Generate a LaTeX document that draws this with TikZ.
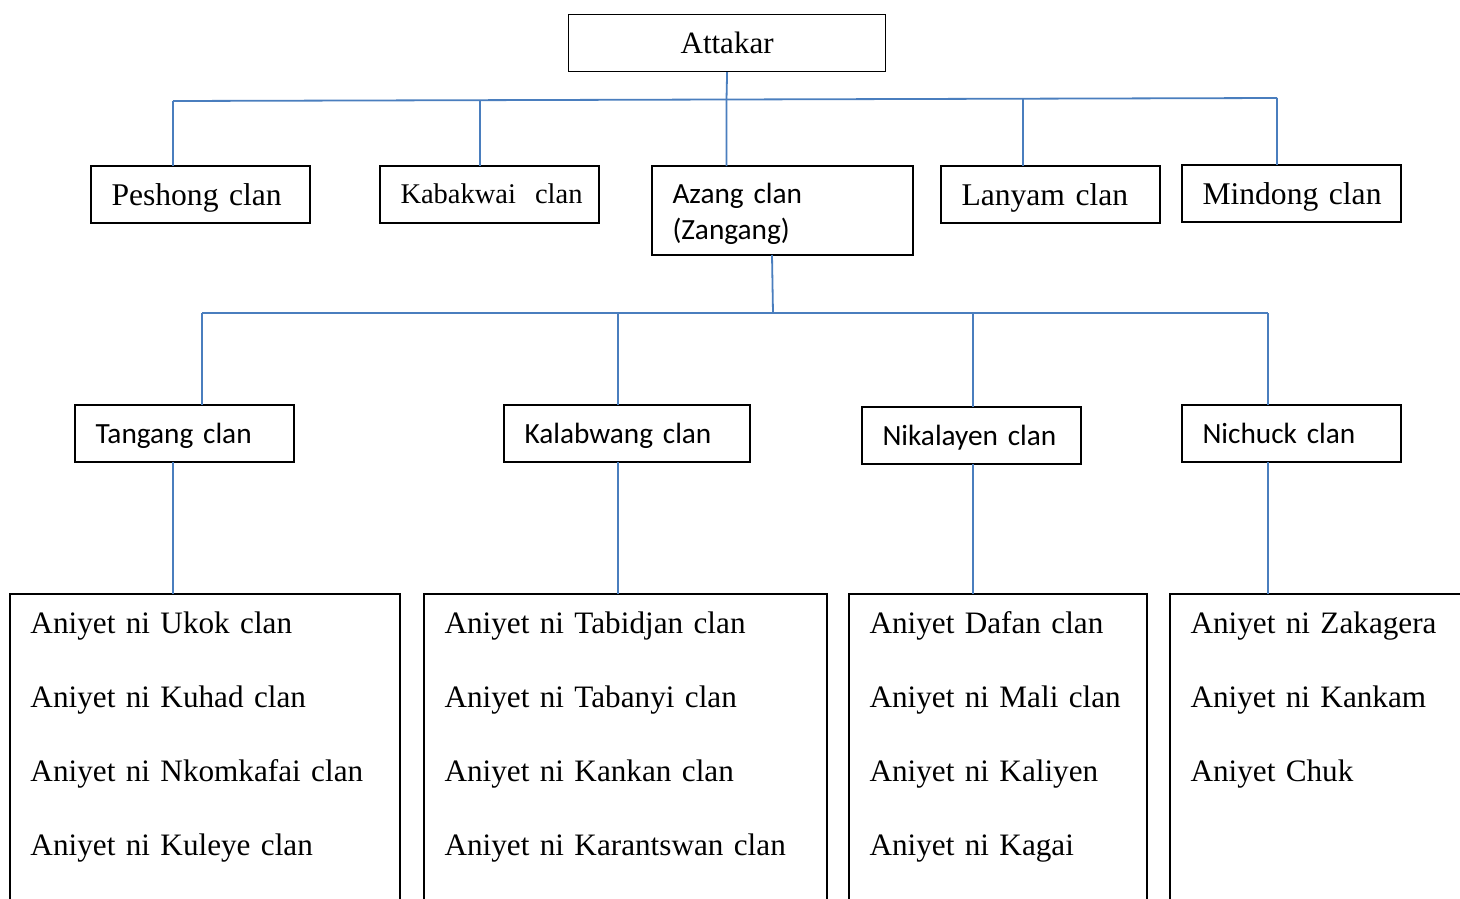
\documentclass[tikz,border=0pt]{standalone}
\usepackage{fontspec}
\setmainfont{Liberation Serif}
\newfontfamily\calib{Carlito}
\definecolor{linkblue}{RGB}{74,126,190}
\begin{document}
\begin{tikzpicture}[x=1pt,y=-1pt,
  box/.style={draw=black, line width=1.2pt, anchor=north west, inner xsep=20.5pt, inner ysep=0pt, align=left, outer sep=0pt},
  onerow/.style={box, minimum width=219pt, minimum height=57pt, text width=178pt, text height=39pt, text depth=18pt},
  serifbig/.style={font=\fontsize{31.6}{38}\selectfont},
  serifsmall/.style={font=\fontsize{28.5}{34}\selectfont},
  sans/.style={font=\calib\fontsize{29.3}{36}\selectfont},
  listbox/.style={box, font=\fontsize{31.2}{74}\selectfont, text height=39pt, text depth=400pt},
  link/.style={draw=linkblue, line width=1.8pt}]
\useasboundingbox (0,0) rectangle (1460,898);
\clip (0,0) rectangle (1460,898);
\fill[white] (0,0) rectangle (1460,898);

% level 0
\node[draw=black, line width=1.2pt, anchor=north west, minimum width=317pt, minimum height=57pt, inner sep=0pt, text height=39pt, text depth=18pt, font=\fontsize{31}{38}\selectfont] (attakar) at (568,14) {Attakar};

% level 1
\node[onerow, serifbig] (peshong) at (91,166) {Peshong~clan};
\node[onerow, serifsmall, text height=37pt, text depth=20pt] (kabakwai) at (380,166) {Kabakwai~~clan};
\node[box, sans, minimum width=261pt, minimum height=89pt, text width=220pt, text height=37pt, text depth=52pt] (azang) at (652,166) {Azang~clan\\(Zangang)};
\node[onerow, serifbig] (lanyam) at (941,166) {Lanyam~clan};
\node[onerow, serifbig] (mindong) at (1182,165) {Mindong~clan};

% level 2
\node[onerow, sans, text height=38pt, text depth=19pt] (tangang) at (75,405) {Tangang~clan};
\node[onerow, sans, minimum width=246pt, text width=205pt, text height=38pt, text depth=19pt] (kalabwang) at (504,405) {Kalabwang~clan};
\node[onerow, sans, text height=38pt, text depth=19pt] (nikalayen) at (862,407) {Nikalayen~clan};
\node[onerow, sans, text height=38pt, text depth=19pt] (nichuck) at (1182,405) {Nichuck~clan};

% level 3
\node[listbox, text width=349pt] (ukok) at (10,594) {Aniyet ni Ukok clan\\Aniyet ni Kuhad clan\\Aniyet ni Nkomkafai clan\\Aniyet ni Kuleye clan};
\node[listbox, text width=362pt] (tabidjan) at (424,594) {Aniyet ni Tabidjan clan\\Aniyet ni Tabanyi clan\\Aniyet ni Kankan clan\\Aniyet ni Karantswan clan};
\node[listbox, text width=257pt] (dafan) at (849,594) {Aniyet Dafan clan\\Aniyet ni Mali clan\\Aniyet ni Kaliyen\\Aniyet ni Kagai};
\node[listbox, text width=360pt] (zakagera) at (1170,594) {Aniyet ni Zakagera\\Aniyet ni Kankam\\Aniyet Chuk};

% connectors level 0 -> 1
\coordinate (barL) at (173,101);
\coordinate (barR) at (1277,98);
\coordinate (jk) at (480,100.2);
\coordinate (ja) at (726.5,99.5);
\coordinate (jl) at (1023,98.7);
\draw[link] (barL) -- (barR);
\draw[link] (attakar.south) -- (ja) -- (ja |- azang.north);
\draw[link] (barL) -- (barL |- peshong.north);
\draw[link] (jk) -- (jk |- kabakwai.north);
\draw[link] (jl) -- (jl |- lanyam.north);
\draw[link] (barR) -- (barR |- mindong.north);

% connectors level 1 -> 2
\coordinate (azb) at (772,255);
\coordinate (b2L) at (202,313);
\coordinate (b2R) at (1268,313);
\coordinate (b2a) at (618,313);
\coordinate (b2b) at (973,313);
\coordinate (b2m) at (773,313);
\draw[link] (b2L) -- (b2R);
\draw[link] (azb |- azang.south) -- (b2m);
\draw[link] (b2L) -- (b2L |- tangang.north);
\draw[link] (b2a) -- (b2a |- kalabwang.north);
\draw[link] (b2b) -- (b2b |- nikalayen.north);
\draw[link] (b2R) -- (b2R |- nichuck.north);

% connectors level 2 -> 3
\coordinate (d1) at (173,0);
\coordinate (d2) at (618,0);
\coordinate (d3) at (973,0);
\coordinate (d4) at (1268,0);
\draw[link] (d1 |- tangang.south) -- (d1 |- ukok.north);
\draw[link] (d2 |- kalabwang.south) -- (d2 |- tabidjan.north);
\draw[link] (d3 |- nikalayen.south) -- (d3 |- dafan.north);
\draw[link] (d4 |- nichuck.south) -- (d4 |- zakagera.north);
\end{tikzpicture}
\end{document}
